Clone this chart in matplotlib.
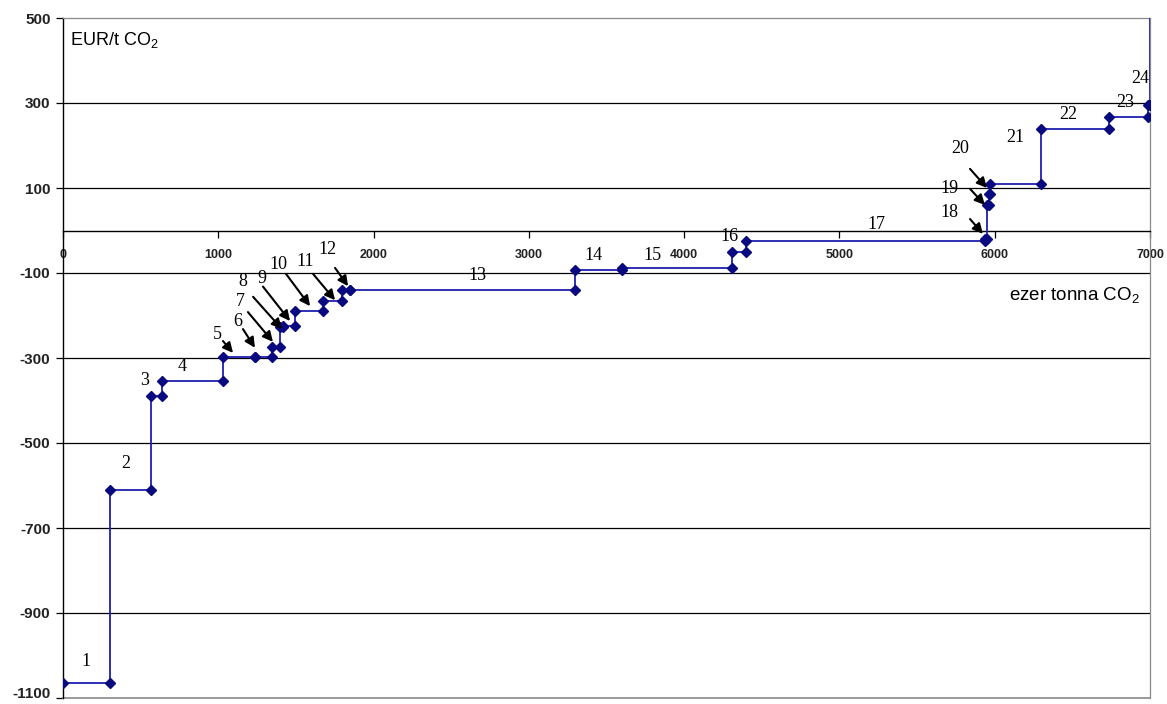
import numpy as np
import matplotlib
matplotlib.use("Agg")
import matplotlib.pyplot as plt
import matplotlib.transforms as mtransforms

plt.rcParams["font.family"] = ["Liberation Sans", "DejaVu Sans"]
plt.rcParams["mathtext.fontset"] = "custom"
plt.rcParams["mathtext.rm"] = "Liberation Sans"
plt.rcParams["mathtext.it"] = "Liberation Sans:italic"

# Abatement measures: potential (ezer tonna CO2) and specific cost (EUR/t CO2)
measure_ids = [str(i) for i in range(1, 25)]
potential = [300, 267, 68, 397, 204, 108, 53, 21, 76, 182, 122, 50,
             1452, 301, 705, 90, 1541, 13, 10, 12, 329, 434, 253, 12]
cost = [-1065, -611, -390, -353, -297, -297, -275, -228, -225, -189, -165, -140,
        -140, -94, -89, -51, -24, -20, 60, 85, 109, 239, 266, 295]
# last, off-scale measure shown only as the rising edge at the right border
tail_potential = 10
tail_cost = 1400

x_ticks = list(range(0, 7001, 1000))
y_ticks = list(range(-1100, 501, 200))

# label placement (data coordinates)
label_pos = {
    "1": (148, -1013), "2": (406, -549), "3": (528, -354), "4": (766, -321),
    "5": (992, -244), "6": (1124, -215), "7": (1140, -166), "8": (1159, -119),
    "9": (1281, -112), "10": (1384, -79), "11": (1558, -74), "12": (1706, -44),
    "13": (2666, -107), "14": (3413, -60), "15": (3799, -60), "16": (4295, -15),
    "17": (5235, 15), "18": (5711, 43), "19": (5711, 98), "20": (5776, 194),
    "21": (6130, 220), "22": (6471, 274), "23": (6838, 302), "24": (6935, 357),
}
# pointer arrows for the narrow steps: (tail, head) in data coordinates
arrows = {
    "5": ((1030, -260), (1095, -288)),
    "6": ((1159, -232), (1236, -276)),
    "7": ((1191, -192), (1352, -262)),
    "8": ((1224, -156), (1410, -232)),
    "9": ((1288, -132), (1462, -213)),
    "10": ((1436, -102), (1591, -178)),
    "11": ((1610, -102), (1752, -164)),
    "12": ((1752, -88), (1836, -131)),
    "18": ((5841, 27), (5924, -8)),
    "19": ((5841, 98), (5937, 60)),
    "20": ((5841, 145), (5950, 100)),
}

# step polyline: both ends of every horizontal segment
widths = potential + [tail_potential]
costs = cost + [tail_cost]
edges = np.concatenate([[0], np.cumsum(widths)])
xs = np.repeat(edges, 2)[1:-1]
ys = np.repeat(costs, 2)

fig = plt.figure(figsize=(11.67, 7.04), dpi=100)
ax = fig.add_axes([63 / 1167, 1 - 698 / 704, (1150 - 63) / 1167, (698 - 18) / 704])

ax.set_xlim(0, 7000)
ax.set_ylim(-1100, 500)

# horizontal grid inside the plot area
for t in y_ticks[1:-1]:
    ax.axhline(t, color="black", lw=0.9, zorder=1)

ax.plot(xs, ys, color="#1f1fb0", lw=1.3, zorder=3,
        marker="D", markersize=4.6, markerfacecolor="#0a0a80",
        markeredgecolor="#0a0a80", clip_on=True)

# spines: left black, x-axis through zero, frame in grey
ax.spines["left"].set_color("black")
ax.spines["left"].set_linewidth(1.0)
ax.spines["bottom"].set_position(("data", 0))
ax.spines["bottom"].set_color("black")
ax.spines["bottom"].set_linewidth(1.0)
for s in ("top", "right"):
    ax.spines[s].set_color("#8a8a8a")
    ax.spines[s].set_linewidth(0.9)
ax.axhline(-1100, color="#8a8a8a", lw=1.2, zorder=2, clip_on=False)

ax.set_xticks(x_ticks)
ax.set_xticklabels([str(v) for v in x_ticks])
ax.set_yticks(y_ticks)
ax.set_yticklabels([str(v) for v in y_ticks])
ax.tick_params(axis="x", direction="out", length=5, width=0.9, pad=8,
               labelsize=9, color="black")
ax.tick_params(axis="y", direction="out", length=5, width=0.9, pad=4,
               labelsize=11, color="black")
for lbl in ax.get_xticklabels() + ax.get_yticklabels():
    lbl.set_fontweight("bold")
    lbl.set_color("#222222")

# keep the lowest y label inside the canvas
lowest = ax.get_yticklabels()[0]
lowest.set_transform(lowest.get_transform() +
                     mtransforms.ScaledTranslation(0, 6 / 100, fig.dpi_scale_trans))

ax.text(0.0065, 0.968, r"EUR/t CO$_\mathrm{2}$", transform=ax.transAxes,
        ha="left", va="center", fontsize=13)
ax.text(0.991, 0.593, r"ezer tonna CO$_\mathrm{2}$", transform=ax.transAxes,
        ha="right", va="center", fontsize=13.5)

# measure labels
serif = ["Liberation Serif", "DejaVu Serif"]
for mid_id in measure_ids:
    tx, ty = label_pos[mid_id]
    ax.text(tx, ty, mid_id, ha="center", va="center", fontsize=13,
            family=serif, zorder=5)

for mid_id, (tail, head) in arrows.items():
    ax.annotate("", xy=head, xytext=tail, zorder=5,
                arrowprops=dict(arrowstyle="-|>", color="black", lw=1.5,
                                mutation_scale=15, shrinkA=0, shrinkB=0))

fig.savefig("out.png", dpi=100)
